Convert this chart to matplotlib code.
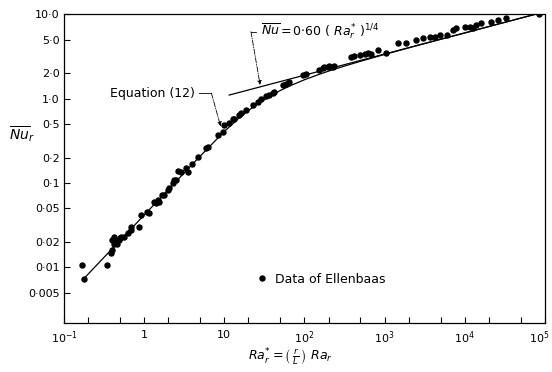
"""Elenbaas parallel-plate data vs. Equation (12) and the 0.60 Ra^1/4 asymptote."""

import matplotlib
matplotlib.use("Agg")
import matplotlib.pyplot as plt
import matplotlib.transforms as mtransforms
from matplotlib.ticker import LogLocator, NullLocator, NullFormatter

plt.rcParams["font.family"] = ["DejaVu Sans"]
plt.rcParams["mathtext.fontset"] = "dejavusans"

# Data of Ellenbaas
ra_data = [0.169, 0.178, 0.347, 0.384, 0.40, 0.40, 0.42, 0.42, 0.44, 0.46, 0.48, 0.50,
           0.52, 0.56, 0.62, 0.68, 0.68, 0.87, 0.91, 1.10, 1.16, 1.33, 1.40, 1.47, 1.54,
           1.69, 1.78, 1.96, 2.05, 2.26, 2.37, 2.49, 2.61, 2.87, 3.3, 3.48, 4.0, 4.64,
           5.9, 6.2, 8.25, 9.5, 10.0, 11.5, 12.7, 13.3, 15.4, 16.1, 18.6, 22.6, 26.1,
           28.6, 33, 36, 40.2, 42.2, 53.6, 58.8, 64.9, 95.3, 105, 154, 169, 178, 196,
           205, 225, 236, 380, 420, 487, 562, 617, 683, 824, 1045, 1466, 1860, 2480,
           3000, 3650, 4220, 4950, 6100, 7140, 7900, 10000, 11600, 12700, 13900, 16000,
           21400, 26000, 32500, 85000]
nu_data = [0.0107, 0.0072, 0.0107, 0.0147, 0.0161, 0.021, 0.019, 0.023, 0.020, 0.019,
           0.021, 0.022, 0.023, 0.0232, 0.0254, 0.0304, 0.0277, 0.030, 0.0418, 0.0457,
           0.0437, 0.060, 0.0575, 0.063, 0.060, 0.072, 0.072, 0.083, 0.0865, 0.099,
           0.109, 0.109, 0.137, 0.136, 0.15, 0.136, 0.17, 0.205, 0.258, 0.27, 0.37,
           0.405, 0.485, 0.51, 0.58, 0.58, 0.64, 0.67, 0.73, 0.84, 0.91, 1.0, 1.07, 1.1,
           1.15, 1.2, 1.45, 1.5, 1.58, 1.90, 1.97, 2.17, 2.27, 2.36, 2.39, 2.4, 2.39,
           2.4, 3.1, 3.2, 3.27, 3.4, 3.5, 3.4, 3.75, 3.5, 4.5, 4.5, 4.9, 5.2, 5.4, 5.4,
           5.6, 5.6, 6.47, 6.8, 7.08, 7.08, 6.8, 7.4, 7.75, 8.1, 8.5, 8.9, 10.0]

# Equation (12) curve
eq_ra = [0.17, 1, 5, 10, 15, 20, 30, 50, 70, 100, 150, 200, 300, 500, 1000, 3000,
         1e4, 3e4, 1e5]
eq_nu = [0.00708, 0.0417, 0.208, 0.407, 0.579, 0.722, 0.945, 1.246, 1.449, 1.669,
         1.925, 2.113, 2.391, 2.762, 3.33, 4.43, 5.98, 7.89, 10.67]

# Nu = 0.60 (Ra*)^1/4 line
asym_ra = [11.5, 1e5]
asym_nu = [1.10, 10.67]

x_ticks = [0.1, 1, 10, 1e2, 1e3, 1e4, 1e5]
x_labels = [r"$10^{-1}$", "1", "10", r"$10^{2}$", r"$10^{3}$", r"$10^{4}$", r"$10^{5}$"]
y_ticks = [0.005, 0.01, 0.02, 0.05, 0.1, 0.2, 0.5, 1, 2, 5, 10]
y_labels = ["0·005", "0·01", "0·02", "0·05", "0·1", "0·2", "0·5", "1·0", "2·0", "5·0", "10·0"]


def main():
    fig = plt.figure(figsize=(5.52, 3.72), dpi=100)
    fig.patch.set_facecolor("white")
    ax = fig.add_axes([0.116, 0.132, 0.871, 0.830])

    ax.plot(eq_ra, eq_nu, color="black", lw=0.9)
    ax.plot(asym_ra, asym_nu, color="black", lw=0.9)
    ax.plot(ra_data, nu_data, "o", color="black", ms=3.6, mec="black",
            label="Data of Ellenbaas")

    ax.set_xscale("log")
    ax.set_yscale("log")
    ax.set_xlim(0.1, 1e5)
    ax.set_ylim(0.0022, 10)

    ax.set_xticks(x_ticks, x_labels)
    ax.xaxis.set_minor_locator(LogLocator(base=10, subs=(2.0, 5.0)))
    ax.xaxis.set_minor_formatter(NullFormatter())
    ax.set_yticks(y_ticks, y_labels)
    ax.yaxis.set_minor_locator(NullLocator())
    ax.tick_params(which="both", direction="in", length=4, width=0.8,
                   labelsize=8, top=False, right=False)
    ax.tick_params(axis="x", pad=5)
    ax.tick_params(axis="y", pad=3)
    for spine in ax.spines.values():
        spine.set_linewidth(0.9)

    # last x label sits on the figure edge, pull it in a little
    last = ax.get_xticklabels()[-1]
    last.set_transform(last.get_transform()
                       + mtransforms.ScaledTranslation(-6 / 100, 0, fig.dpi_scale_trans))

    ax.set_xlabel(r"$Ra_r^{*} = \left(\,\frac{r}{L}\,\right)\ Ra_r$", fontsize=9)
    ax.xaxis.set_label_coords(0.47, -0.078)
    ax.set_ylabel(r"$\overline{Nu}_r$", fontsize=10, rotation=0, va="center", ha="center")
    ax.yaxis.set_label_coords(-0.088, 0.61)

    # annotations
    ax.text(28.5, 6.3, r"$\overline{Nu}\,$=$\,\mathrm{0{\cdot}60}\ (\ Ra_r^{*}\ )^{1/4}$",
            fontsize=9, va="center", ha="left")
    ax.plot([21.5, 25], [6.2, 6.2], color="black", lw=0.6)
    ax.annotate("", xy=(28, 1.45), xytext=(21.5, 6.2),
                arrowprops=dict(arrowstyle="-|>", lw=0.6, ls="-.", color="black",
                                mutation_scale=6, shrinkA=0, shrinkB=0))

    ax.text(4.3, 1.16, "Equation (12)", fontsize=9, va="center", ha="right")
    ax.plot([4.9, 6.9], [1.16, 1.16], color="black", lw=0.6)
    ax.annotate("", xy=(9.0, 0.47), xytext=(6.9, 1.16),
                arrowprops=dict(arrowstyle="-|>", lw=0.6, ls="-.", color="black",
                                mutation_scale=6, shrinkA=0, shrinkB=0))

    ax.legend(loc="center left", bbox_to_anchor=(0.403, 0.142), frameon=False,
              fontsize=9, handlelength=0.6, handletextpad=0.8, borderpad=0,
              borderaxespad=0)

    fig.savefig("out.png", dpi=100, facecolor="white")
    plt.close(fig)


if __name__ == "__main__":
    main()
